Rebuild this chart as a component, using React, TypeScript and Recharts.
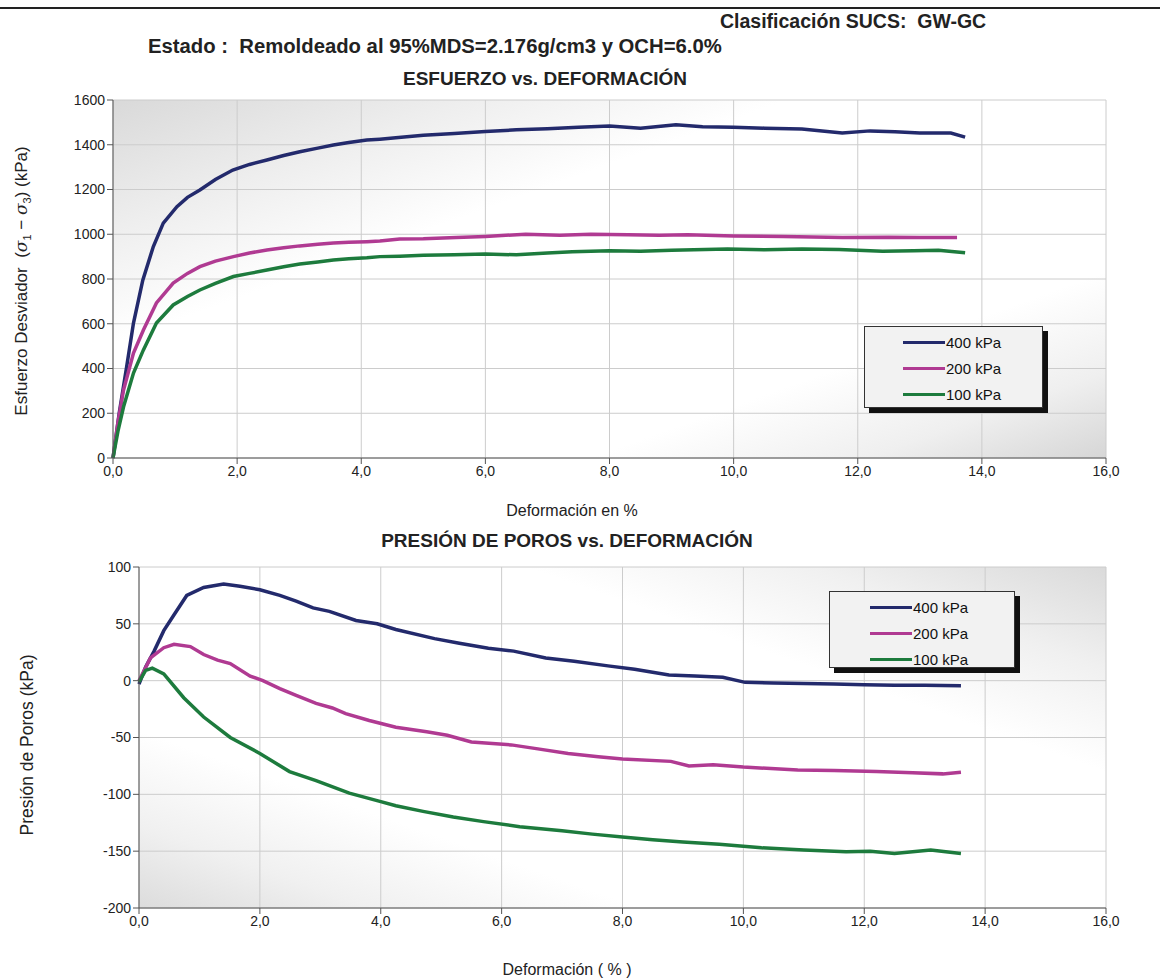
import React from 'react';
import { LineChart, Line, XAxis, YAxis, CartesianGrid, Legend } from 'recharts';

// ---------- DATA ----------
const seriesNames = ['400 kPa', '200 kPa', '100 kPa'];
const seriesColors = ['#232a6c', '#b03a92', '#1d7b3d'];
const xTicks = [0, 2, 4, 6, 8, 10, 12, 14, 16];
const devTicks = [0, 200, 400, 600, 800, 1000, 1200, 1400, 1600];
const poreTicks = [-200, -150, -100, -50, 0, 50, 100];

// Esfuerzo desviador vs deformación
const strainDev400 = [0, 0.1, 0.22, 0.33, 0.48, 0.65, 0.81, 1.03, 1.2, 1.4, 1.65, 1.93, 2.2, 2.48, 2.75, 3.01, 3.3, 3.55, 3.8, 4.09, 4.3, 4.6, 5.0, 5.5, 6.0, 6.5, 7.0, 7.5, 8.0, 8.5, 9.07, 9.5, 10.0, 10.5, 11.1, 11.75, 12.2, 12.6, 13.0, 13.5, 13.73];
const dev400 = [0, 200, 408, 603, 795, 945, 1050, 1123, 1165, 1198, 1245, 1287, 1312, 1332, 1352, 1369, 1385, 1399, 1410, 1421, 1425, 1432, 1442, 1450, 1459, 1467, 1472, 1478, 1484, 1474, 1489, 1480, 1478, 1474, 1470, 1452, 1462, 1458, 1452, 1452, 1434];
const strainDev200 = [0, 0.08, 0.17, 0.33, 0.49, 0.7, 0.97, 1.2, 1.4, 1.65, 1.94, 2.2, 2.48, 2.75, 3.01, 3.3, 3.55, 3.8, 4.09, 4.3, 4.62, 5.0, 5.53, 6.0, 6.65, 7.2, 7.7, 8.3, 8.8, 9.26, 10.0, 10.8, 11.75, 12.5, 13.0, 13.6];
const dev200 = [0, 160, 304, 469, 572, 693, 782, 825, 855, 880, 900, 916, 930, 940, 948, 955, 961, 964, 967, 970, 979, 980, 985, 990, 1000, 996, 1000, 998, 996, 998, 992, 990, 985, 987, 985, 986];
const strainDev100 = [0, 0.08, 0.17, 0.33, 0.49, 0.7, 0.97, 1.2, 1.4, 1.65, 1.94, 2.2, 2.48, 2.75, 3.01, 3.3, 3.55, 3.8, 4.09, 4.3, 4.62, 5.0, 5.5, 6.0, 6.5, 7.0, 7.4, 8.0, 8.5, 9.0, 9.9, 10.5, 11.1, 11.7, 12.4, 12.9, 13.3, 13.73];
const dev100 = [0, 120, 229, 380, 483, 603, 684, 722, 751, 780, 811, 825, 840, 855, 867, 876, 885, 890, 895, 900, 902, 906, 908, 912, 908, 916, 922, 926, 924, 928, 934, 931, 934, 932, 924, 926, 928, 917];

// Presión de poros vs deformación
const strainPore400 = [0, 0.11, 0.25, 0.41, 0.58, 0.79, 1.07, 1.4, 1.67, 2.0, 2.33, 2.6, 2.88, 3.15, 3.59, 3.94, 4.25, 4.89, 5.3, 5.78, 6.2, 6.73, 7.2, 7.76, 8.2, 8.77, 9.2, 9.66, 10.03, 10.5, 11.0, 11.5, 12.0, 12.5, 13.0, 13.6];
const pore400 = [-3, 12, 26, 44, 58, 75, 82, 85, 83, 80, 75, 70, 64, 61, 53, 50, 45, 37, 33, 28.5, 26, 20, 17, 13, 10, 5, 4, 3, -1.5, -2, -2.5, -3, -3.5, -4, -4, -4.5];
const strainPore200 = [0, 0.19, 0.41, 0.58, 0.85, 1.07, 1.3, 1.51, 1.84, 2.05, 2.33, 2.6, 2.93, 3.2, 3.42, 3.81, 4.25, 4.76, 5.1, 5.5, 6.16, 6.6, 7.1, 7.6, 8.0, 8.8, 9.1, 9.5, 10.0, 10.9, 11.5, 12.2, 12.8, 13.3, 13.6];
const pore200 = [0, 20, 29, 32, 30, 23, 18, 15, 4, 0, -7, -13, -20, -24, -29, -35, -41, -45, -48, -54, -56.5, -60, -64, -67, -69, -71, -75, -74, -76, -78.5, -79, -80, -81, -82, -80.5];
const strainPore100 = [0, 0.11, 0.22, 0.41, 0.74, 1.07, 1.51, 2.0, 2.49, 2.93, 3.48, 3.97, 4.25, 4.7, 5.2, 5.7, 6.3, 7.0, 7.5, 8.0, 8.5, 9.0, 9.6, 10.3, 11.0, 11.7, 12.1, 12.5, 13.1, 13.6];
const pore100 = [-1, 9, 11, 6, -15, -32, -50, -64, -80, -88, -99, -106, -110, -115, -120, -124, -128.5, -132, -135, -137.5, -140, -142, -144, -147, -149, -150.5, -150, -152, -149, -152];

const zip = (xs: number[], ys: number[]) => xs.map((x, i) => ({ x, y: ys[i] }));
const devData = [zip(strainDev400, dev400), zip(strainDev200, dev200), zip(strainDev100, dev100)];
const poreData = [zip(strainPore400, pore400), zip(strainPore200, pore200), zip(strainPore100, pore100)];

const FONT = "'Liberation Sans', Arial, sans-serif";
const fmt = (v: number) => v.toFixed(1).replace('.', ',');

const LegendBox = ({ payload, swatchLeft }: any) => {
  const items = [...(payload || [])].sort((a: any, b: any) => seriesNames.indexOf(a.value) - seriesNames.indexOf(b.value));
  return (
    <div style={{ position: 'relative', width: '100%', height: '100%' }}>
      <div style={{ position: 'absolute', left: 5, top: 5, right: -5, bottom: -5, background: '#111' }} />
      <div style={{ position: 'absolute', inset: 0, background: '#f2f2f2', border: '1px solid #333', fontFamily: FONT, fontSize: 15, color: '#111' }}>
        {items.map((p: any, i: number) => (
          <div key={i} style={{ position: 'absolute', left: swatchLeft, top: 5 + i * 26, height: 20, display: 'flex', alignItems: 'center' }}>
            <div style={{ width: 42, height: 3, background: p.color }} />
            <span style={{ marginLeft: 1 }}>{p.value}</span>
          </div>
        ))}
      </div>
    </div>
  );
};

const tickStyle = { fill: '#222', fontSize: 14, fontFamily: FONT };
const pre = { whiteSpace: 'pre' } as React.CSSProperties;

export default function App() {
  return (
    <div style={{ position: 'absolute', left: 0, top: 0, width: 1160, height: 980, background: '#fff', overflow: 'hidden' }}>
      <div style={{ position: 'absolute', left: 0, top: 7, width: 1160, height: 2, background: '#222' }} />

      {/* Top chart */}
      <div style={{ position: 'absolute', left: 0, top: 0 }}>
        <LineChart width={1160} height={520} margin={{ top: 100, right: 54, left: 53, bottom: 32 }}>
          <defs>
            <linearGradient id="bgTop" x1="0" y1="0" x2="1" y2="1">
              <stop offset="0" stopColor="#d9d9d9" />
              <stop offset="0.18" stopColor="#eeeeee" />
              <stop offset="0.34" stopColor="#ffffff" />
              <stop offset="0.74" stopColor="#ffffff" />
              <stop offset="0.88" stopColor="#efefef" />
              <stop offset="1" stopColor="#d6d6d6" />
            </linearGradient>
          </defs>
          <CartesianGrid stroke="#cccccc" fill="url(#bgTop)" fillOpacity={1} />
          <XAxis type="number" dataKey="x" domain={[0, 16]} ticks={xTicks} tickFormatter={fmt} tick={tickStyle}
            stroke="#555" height={30} allowDuplicatedCategory={false} />
          <YAxis type="number" dataKey="y" domain={[0, 1600]} ticks={devTicks} tick={tickStyle} stroke="#555" width={60} />
          {devData.map((d, i) => (
            <Line key={i} data={d} dataKey="y" name={seriesNames[i]} stroke={seriesColors[i]} strokeWidth={3.5}
              dot={false} isAnimationActive={false} type="linear" />
          ))}
          <Legend layout="horizontal" verticalAlign="middle" align="center"
            wrapperStyle={{ left: 864, top: 326, width: 179, height: 82 }}
            content={(props: any) => <LegendBox payload={props.payload} swatchLeft={38} />} />
        </LineChart>
      </div>

      {/* Bottom chart */}
      <div style={{ position: 'absolute', left: 0, top: 530 }}>
        <LineChart width={1160} height={450} margin={{ top: 37, right: 54, left: 79, bottom: 42 }}>
          <defs>
            <linearGradient id="bgBot" x1="1" y1="0" x2="0" y2="1">
              <stop offset="0" stopColor="#dadada" />
              <stop offset="0.15" stopColor="#f0f0f0" />
              <stop offset="0.3" stopColor="#ffffff" />
              <stop offset="0.74" stopColor="#ffffff" />
              <stop offset="0.88" stopColor="#f0f0f0" />
              <stop offset="1" stopColor="#dcdcdc" />
            </linearGradient>
          </defs>
          <CartesianGrid stroke="#cccccc" fill="url(#bgBot)" fillOpacity={1} />
          <XAxis type="number" dataKey="x" domain={[0, 16]} ticks={xTicks} tickFormatter={fmt} tick={tickStyle}
            stroke="#555" height={30} allowDuplicatedCategory={false} />
          <YAxis type="number" dataKey="y" domain={[-200, 100]} ticks={poreTicks} tick={tickStyle} stroke="#555" width={60} />
          {poreData.map((d, i) => (
            <Line key={i} data={d} dataKey="y" name={seriesNames[i]} stroke={seriesColors[i]} strokeWidth={3.5}
              dot={false} isAnimationActive={false} type="linear" />
          ))}
          <Legend layout="horizontal" verticalAlign="middle" align="center"
            wrapperStyle={{ left: 829, top: 61, width: 186, height: 77 }}
            content={(props: any) => <LegendBox payload={props.payload} swatchLeft={40} />} />
        </LineChart>
      </div>

      {/* Texts */}
      <svg width={1160} height={980} style={{ position: 'absolute', left: 0, top: 0, pointerEvents: 'none' }}>
        <text x={720} y={28} style={pre} fontFamily={FONT} fontWeight="bold" fontSize={19.5} fill="#222">Clasificación SUCS:  GW-GC</text>
        <text x={148} y={53} style={pre} fontFamily={FONT} fontWeight="bold" fontSize={20.3} fill="#222">Estado :  Remoldeado al 95%MDS=2.176g/cm3 y OCH=6.0%</text>
        <text x={545} y={85} textAnchor="middle" fontFamily={FONT} fontWeight="bold" fontSize={19} fill="#222">ESFUERZO vs. DEFORMACIÓN</text>
        <text x={572} y={516} textAnchor="middle" fontFamily={FONT} fontSize={16} fill="#222">Deformación en %</text>
        <text x={567} y={547} textAnchor="middle" fontFamily={FONT} fontWeight="bold" fontSize={19} fill="#222">PRESIÓN DE POROS vs. DEFORMACIÓN</text>
        <text x={567} y={975} textAnchor="middle" fontFamily={FONT} fontSize={16} fill="#222">Deformación ( % )</text>
        <text transform="translate(27,281) rotate(-90)" textAnchor="middle" style={pre} fontFamily={FONT} fontSize={17} fill="#222">
          Esfuerzo Desviador  (<tspan fontFamily="'DejaVu Serif', serif" fontStyle="italic">σ</tspan>
          <tspan fontSize={11} dy={4}>1</tspan>
          <tspan dy={-4}> − </tspan>
          <tspan fontFamily="'DejaVu Serif', serif" fontStyle="italic">σ</tspan>
          <tspan fontSize={11} dy={4}>3</tspan>
          <tspan dy={-4}>) (kPa)</tspan>
        </text>
        <text transform="translate(33,745) rotate(-90)" textAnchor="middle" fontFamily={FONT} fontSize={17.5} fill="#222">Presión de Poros (kPa)</text>
      </svg>
    </div>
  );
}
